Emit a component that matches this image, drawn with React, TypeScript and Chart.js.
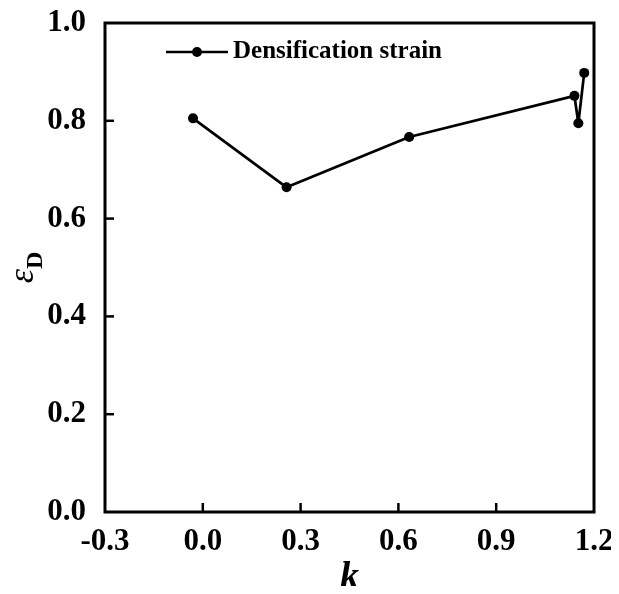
import React, { useEffect, useRef } from "react";
import { Chart, registerables } from "chart.js";

Chart.register(...registerables);

const kValues = [-0.03, 0.257, 0.633, 1.14, 1.152, 1.17];
const strainValues = [0.805, 0.664, 0.767, 0.851, 0.795, 0.898];
const xTickValues = [-0.3, 0, 0.3, 0.6, 0.9, 1.2];
const yTickValues = [0, 0.2, 0.4, 0.6, 0.8, 1.0];
const seriesLabel = "Densification strain";
const xTitle = "k";
const yTitleMain = "ε";
const yTitleSub = "D";

const FONT = "'Liberation Serif', 'Times New Roman', serif";

const framePlugin = {
  id: "frame",
  beforeDatasetsDraw(chart: any) {
    const { ctx, chartArea: a, scales } = chart;
    ctx.save();
    ctx.strokeStyle = "#000";
    ctx.lineWidth = 3;
    ctx.strokeRect(a.left, a.top, a.right - a.left, a.bottom - a.top);
    ctx.lineWidth = 2.5;
    const tl = 9;
    xTickValues.forEach((v) => {
      const px = scales.x.getPixelForValue(v);
      if (px <= a.left + 2 || px >= a.right - 2) return;
      ctx.beginPath();
      ctx.moveTo(px, a.bottom);
      ctx.lineTo(px, a.bottom - tl);
      ctx.stroke();
    });
    yTickValues.forEach((v) => {
      const py = scales.y.getPixelForValue(v);
      if (py <= a.top + 2 || py >= a.bottom - 2) return;
      ctx.beginPath();
      ctx.moveTo(a.left, py);
      ctx.lineTo(a.left + tl, py);
      ctx.stroke();
    });
    ctx.restore();
  },
  afterDraw(chart: any) {
    const { ctx, chartArea: a } = chart;
    ctx.save();
    // legend
    const ly = a.top + 29;
    const lx0 = a.left + 61;
    const lx1 = a.left + 123;
    ctx.strokeStyle = "#000";
    ctx.lineWidth = 2.5;
    ctx.beginPath();
    ctx.moveTo(lx0, ly);
    ctx.lineTo(lx1, ly);
    ctx.stroke();
    ctx.fillStyle = "#000";
    ctx.beginPath();
    ctx.arc((lx0 + lx1) / 2, ly, 5, 0, Math.PI * 2);
    ctx.fill();
    ctx.font = `bold 25px ${FONT}`;
    ctx.textBaseline = "middle";
    ctx.textAlign = "left";
    ctx.fillText(seriesLabel, lx1 + 5, ly);
    // x title
    ctx.font = `italic bold 38px ${FONT}`;
    ctx.textAlign = "center";
    ctx.textBaseline = "middle";
    ctx.fillText(xTitle, (a.left + a.right) / 2, 570);
    // y title
    const cx = 16;
    const cy = (a.top + a.bottom) / 2;
    ctx.translate(cx, cy);
    ctx.rotate(-Math.PI / 2);
    ctx.textAlign = "left";
    ctx.font = `italic 36px ${FONT}`;
    ctx.textBaseline = "alphabetic";
    const wMain = ctx.measureText(yTitleMain).width;
    ctx.font = `bold 24px ${FONT}`;
    const wSub = ctx.measureText(yTitleSub).width;
    const total = wMain + wSub;
    ctx.font = `italic 36px ${FONT}`;
    ctx.fillText(yTitleMain, -total / 2, 9);
    ctx.font = `bold 24px ${FONT}`;
    ctx.fillText(yTitleSub, -total / 2 + wMain, 18);
    ctx.restore();
  },
};

export default function App() {
  const ref = useRef<HTMLCanvasElement | null>(null);

  useEffect(() => {
    if (!ref.current) return;
    const chart = new Chart(ref.current, {
      type: "line",
      data: {
        datasets: [
          {
            label: seriesLabel,
            data: kValues.map((k, i) => ({ x: k, y: strainValues[i] })),
            borderColor: "#000",
            backgroundColor: "#000",
            borderWidth: 2.7,
            borderJoinStyle: "round",
            borderCapStyle: "round",
            pointRadius: 5,
            pointBackgroundColor: "#000",
            pointBorderColor: "#000",
            pointBorderWidth: 0,
            tension: 0,
            fill: false,
          },
        ],
      },
      options: {
        animation: false,
        responsive: true,
        maintainAspectRatio: false,
        layout: { padding: { left: 0, top: 15, right: 17, bottom: 0 } },
        plugins: { legend: { display: false }, tooltip: { enabled: false } },
        scales: {
          x: {
            type: "linear",
            min: -0.3,
            max: 1.2,
            afterBuildTicks: (s: any) => {
              s.ticks = xTickValues.map((v) => ({ value: v }));
            },
            afterFit: (s: any) => {
              s.height = 74;
              s.paddingLeft = 0;
              s.paddingRight = 0;
            },
            grid: { display: false },
            border: { display: false },
            ticks: {
              color: "#000",
              padding: 3,
              maxRotation: 0,
              autoSkip: false,
              font: { family: FONT, size: 31, weight: "bold" },
              callback: (v: any) => Number(v).toFixed(1),
            },
          },
          y: {
            type: "linear",
            min: 0,
            max: 1.0,
            afterBuildTicks: (s: any) => {
              s.ticks = yTickValues.map((v) => ({ value: v }));
            },
            afterFit: (s: any) => {
              s.width = 97;
              s.paddingTop = 0;
              s.paddingBottom = 0;
            },
            grid: { display: false },
            border: { display: false },
            ticks: {
              color: "#000",
              padding: 11,
              autoSkip: false,
              font: { family: FONT, size: 31, weight: "bold" },
              callback: (v: any) => Number(v).toFixed(1),
            },
          },
        },
      },
      plugins: [framePlugin],
    } as any);
    return () => chart.destroy();
  }, []);

  return (
    <div style={{ width: 603, height: 578, position: "relative" }}>
      <canvas ref={ref} />
    </div>
  );
}
